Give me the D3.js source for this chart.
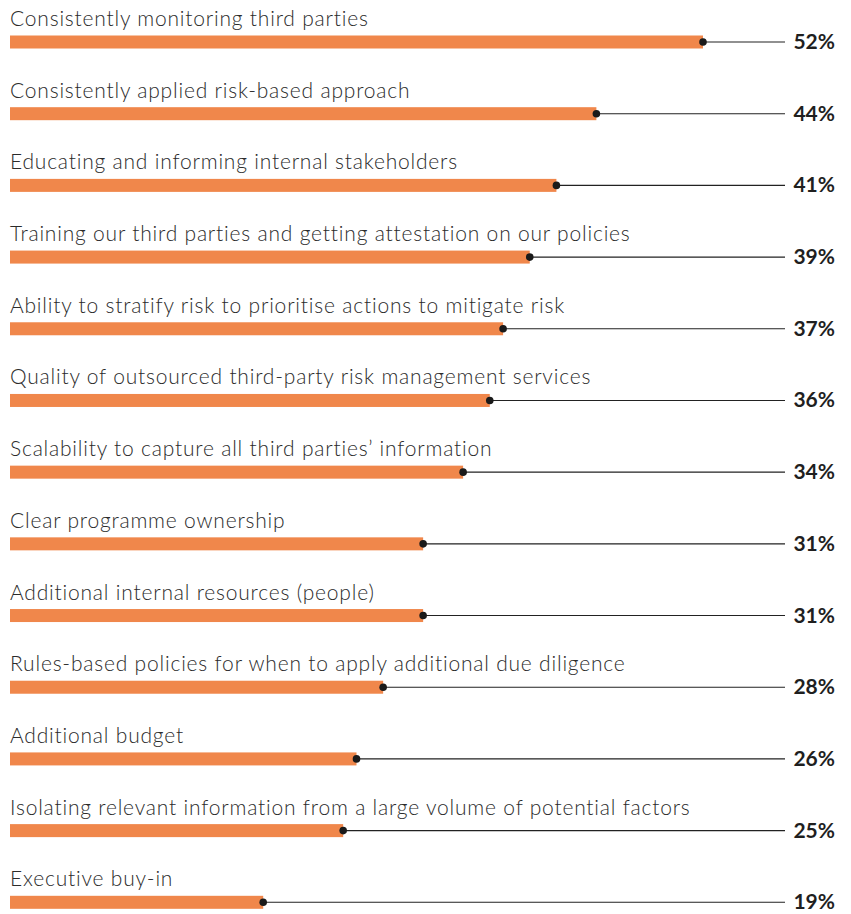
<!DOCTYPE html>
<html>
<head>
<meta charset="utf-8">
<script src="https://cdn.jsdelivr.net/npm/d3@7"></script>
<style>
  html, body { margin: 0; padding: 0; background: #fff; }
  svg { display: block; }
</style>
</head>
<body>
<svg id="chart" width="851" height="914"></svg>
<script>
const categories = [
  "Consistently monitoring third parties",
  "Consistently applied risk-based approach",
  "Educating and informing internal stakeholders",
  "Training our third parties and getting attestation on our policies",
  "Ability to stratify risk to prioritise actions to mitigate risk",
  "Quality of outsourced third-party risk management services",
  "Scalability to capture all third parties\u2019 information",
  "Clear programme ownership",
  "Additional internal resources (people)",
  "Rules-based policies for when to apply additional due diligence",
  "Additional budget",
  "Isolating relevant information from a large volume of potential factors",
  "Executive buy-in"
];
const values = [52, 44, 41, 39, 37, 36, 34, 31, 31, 28, 26, 25, 19];
const valueLabels = ["52%", "44%", "41%", "39%", "37%", "36%", "34%", "31%", "31%", "28%", "26%", "25%", "19%"];

const svg = d3.select("#chart");
const x = d3.scaleLinear().domain([0, 52]).range([10, 703]);
const y = d3.scaleBand().domain(categories).range([6, 938]).paddingInner(0).paddingOuter(0);
const barH = 13;
const lineEnd = 785;
const labelRight = 835;

const rows = svg.selectAll("g.row")
  .data(categories.map((c, i) => ({ c, v: values[i], l: valueLabels[i] })))
  .join("g")
  .attr("class", "row")
  .attr("transform", d => `translate(0,${y(d.c) + 36})`);

rows.append("text")
  .attr("x", 10)
  .attr("y", -16)
  .attr("font-family", "Lato, 'Open Sans', sans-serif")
  .attr("font-weight", 300)
  .attr("font-size", 21)
  .attr("letter-spacing", 0.8)
  .attr("fill", "#2b2b2b")
  .text(d => d.c);

rows.append("rect")
  .attr("x", x(0))
  .attr("y", -barH / 2)
  .attr("width", d => x(d.v) - x(0))
  .attr("height", barH)
  .attr("fill", "#f0874b");

rows.append("line")
  .attr("x1", d => x(d.v))
  .attr("x2", lineEnd)
  .attr("y1", 0)
  .attr("y2", 0)
  .attr("stroke", "#222")
  .attr("stroke-width", 1.1);

rows.append("circle")
  .attr("cx", d => x(d.v))
  .attr("cy", 0)
  .attr("r", 3.8)
  .attr("fill", "#1a1a1a");

rows.append("text")
  .attr("x", labelRight)
  .attr("y", 7)
  .attr("text-anchor", "end")
  .attr("font-family", "Lato, 'Open Sans', sans-serif")
  .attr("font-weight", 700)
  .attr("font-size", 21)
  .attr("fill", "#1f1f1f")
  .text(d => d.l);
</script>
</body>
</html>
